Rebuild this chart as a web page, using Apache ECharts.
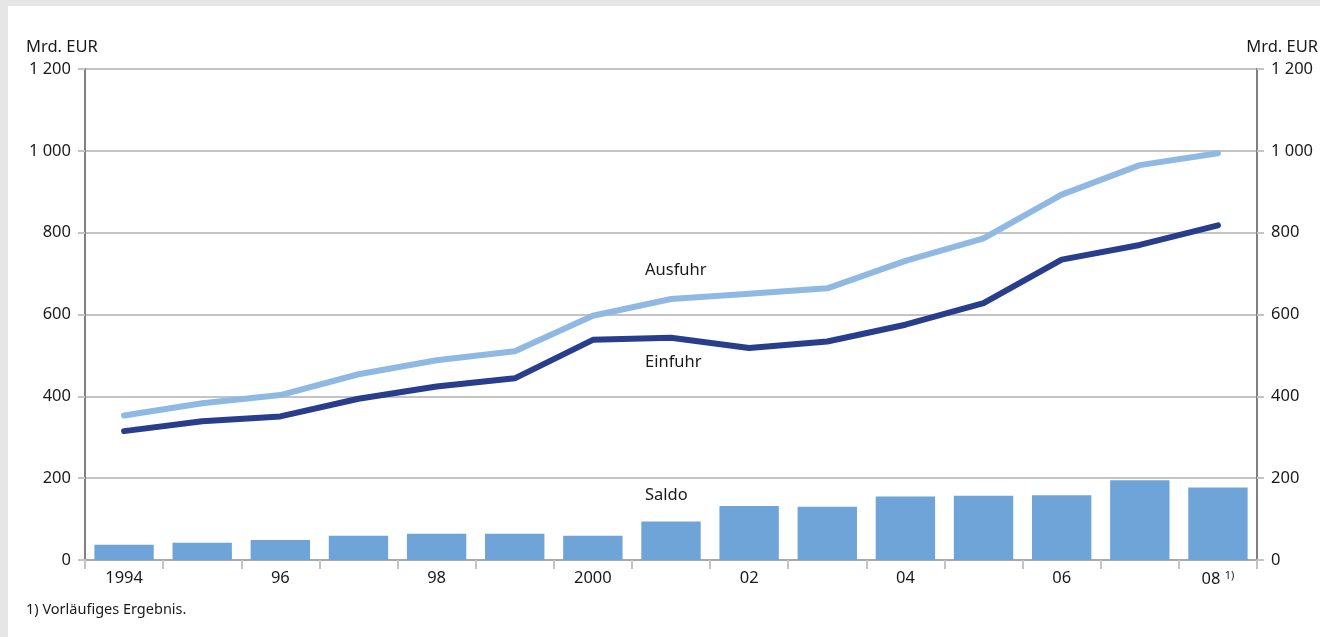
<!DOCTYPE html>
<html>
<head>
<meta charset="utf-8">
<script src="https://cdn.jsdelivr.net/npm/echarts@6/dist/echarts.min.js"></script>
<style>
    html, body {
        margin: 0;
        padding: 0;
        background: #e6e6e6;
    }
    .frame {
        position: absolute;
        left: 8px;
        top: 6px;
        width: 1312px;
        height: 631px;
        background: #fff;
    }
    #chart {
        position: absolute;
        left: 0;
        top: 0;
        width: 1320px;
        height: 637px;
    }
</style>
</head>
<body>
<div class="frame"></div>
<div id="chart"></div>
<script>
    // Jahre
    var years = ['1994', '1995', '1996', '1997', '1998', '1999', '2000', '2001', '2002', '2003', '2004', '2005', '2006', '2007', '2008']
    // kurze Beschriftung unter der Achse
    var yearLabels = ['1994', '', '96', '', '98', '', '2000', '', '02', '', '04', '', '06', '', '08']
    // Mrd. EUR
    var ausfuhr = [353, 383, 403, 454, 488, 510, 597, 638, 651, 664, 731, 786, 893, 965, 994]
    var einfuhr = [315, 339, 351, 394, 424, 444, 538, 543, 518, 534, 575, 628, 734, 770, 818]
    var saldo = [37, 42, 49, 59, 64, 64, 59, 94, 132, 130, 155, 157, 158, 195, 177]
    var yTicks = [0, 200, 400, 600, 800, 1000, 1200]

    var font = 'Noto Sans'
    var textColor = '#1a1a1a'
    var fs = 16.5

    function fmt (v) {
        return String(v).replace(/\B(?=(\d{3})+(?!\d))/g, ' ')
    }

    var yAxisBase = {
        type: 'value',
        min: yTicks[0],
        max: yTicks[yTicks.length - 1],
        interval: yTicks[1] - yTicks[0],
        axisLine: { show: true, lineStyle: { color: '#808080', width: 2 } },
        axisTick: { show: true, length: 7, lineStyle: { color: '#c4c4c4', width: 2 } },
        splitLine: { show: true, lineStyle: { color: '#c4c4c4', width: 2 } },
        axisLabel: {
            formatter: fmt,
            color: textColor,
            fontFamily: font,
            fontSize: fs,
            margin: 14
        }
    }

    var myChart = echarts.init(document.getElementById('chart'))

    myChart.setOption({
        animation: false,
        grid: { left: 85, right: 63, top: 69, bottom: 77, containLabel: false },
        xAxis: {
            type: 'category',
            data: years,
            boundaryGap: true,
            axisLine: { lineStyle: { color: '#a8a8a8', width: 2 } },
            axisTick: { show: true, interval: 0, length: 9, lineStyle: { color: '#c4c4c4', width: 2 } },
            axisLabel: {
                interval: 0,
                margin: 10,
                color: textColor,
                fontFamily: font,
                fontSize: fs,
                formatter: function (v, i) {
                    var t = yearLabels[i]
                    if (i === years.length - 1) return t + ' {sup|1)}'
                    return t
                },
                rich: {
                    sup: { fontSize: 11, fontFamily: font, color: textColor, verticalAlign: 'top', padding: [0, 0, 8, 0] }
                }
            }
        },
        yAxis: [
            Object.assign({}, yAxisBase, { position: 'left' }),
            Object.assign({}, yAxisBase, { position: 'right', splitLine: { show: false } })
        ],
        series: [
            {
                name: 'Saldo',
                type: 'bar',
                data: saldo,
                barCategoryGap: '24%',
                itemStyle: { color: '#6ea4d8' },
                z: 2
            },
            {
                name: 'Ausfuhr',
                type: 'line',
                data: ausfuhr,
                symbol: 'none',
                lineStyle: { color: '#8fb9e3', width: 6, cap: 'round', join: 'round' },
                z: 3
            },
            {
                name: 'Einfuhr',
                type: 'line',
                data: einfuhr,
                symbol: 'none',
                lineStyle: { color: '#283d8b', width: 6, cap: 'round', join: 'round' },
                z: 4
            }
        ],
        graphic: [
            { type: 'text', left: 26, top: 39, style: { text: 'Mrd. EUR', font: fs + 'px "Noto Sans"', fill: textColor } },
            { type: 'text', right: 2, top: 39, style: { text: 'Mrd. EUR', font: fs + 'px "Noto Sans"', fill: textColor } },
            { type: 'text', left: 645, top: 262, style: { text: 'Ausfuhr', font: fs + 'px "Noto Sans"', fill: textColor } },
            { type: 'text', left: 645, top: 354, style: { text: 'Einfuhr', font: fs + 'px "Noto Sans"', fill: textColor } },
            { type: 'text', left: 645, top: 487, style: { text: 'Saldo', font: fs + 'px "Noto Sans"', fill: textColor } },
            { type: 'text', left: 26, top: 602, style: { text: '1) Vorläufiges Ergebnis.', font: '14.5px "Noto Sans"', fill: textColor } }
        ]
    })
</script>
</body>
</html>
